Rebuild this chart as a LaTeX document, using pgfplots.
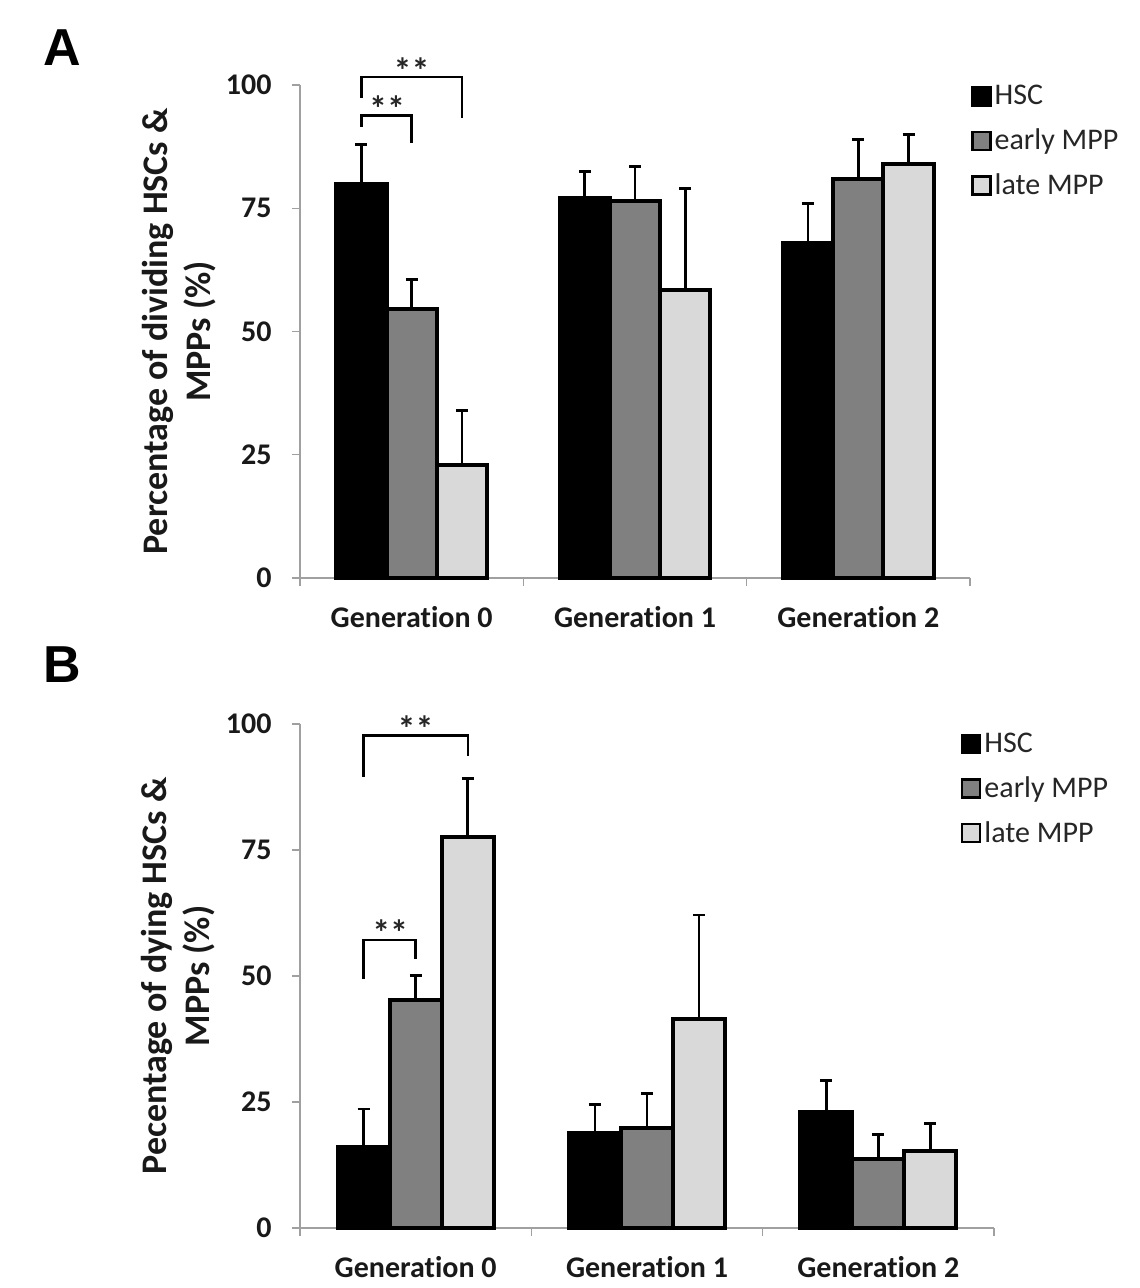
\documentclass[border=0pt]{standalone}
\usepackage{pgfplots}
\pgfplotsset{compat=1.18}
\usepackage{fontspec}
\setmainfont{Carlito}[Ligatures=NoCommon]
\newfontfamily\panelfont{Liberation Sans}

\definecolor{earlygray}{HTML}{808080}
\definecolor{lategray}{HTML}{D9D9D9}
\definecolor{axisgray}{HTML}{A0A0A0}

\tikzset{stars/.style={font=\fontsize{18}{18}\selectfont\bfseries, anchor=base, text=black!85}}

\pgfplotsset{
  panel/.style={
    scale only axis,
    xmin=-0.5, xmax=2.5, ymin=0, ymax=100,
    clip=false,
    ytick={0,25,50,75,100},
    xtick={-0.5,0.5,1.5,2.5},
    xticklabels={},
    extra x ticks={0,1,2},
    extra x tick labels={Generation 0,Generation 1,Generation 2},
    extra x tick style={major tick length=0pt},
    axis x line*=bottom, axis y line*=left,
    axis line style={axisgray, line width=0.7pt},
    tick align=outside,
    tick style={axisgray, line width=0.7pt},
    major tick length=4pt,
    /pgf/number format/assume math mode=true,
    ticklabel style={font=\fontsize{15}{18}\selectfont\bfseries, text=black!90},
    yticklabel style={inner sep=0pt, xshift=-10pt},
    xticklabel style={inner sep=0pt, yshift=-14pt},
    ylabel style={align=center, font=\fontsize{18}{21.5}\selectfont\bfseries, anchor=center, text=black!90},
    legend cell align=left,
    legend style={draw=none, fill=none, anchor=north west, font=\fontsize{15}{18}\selectfont,
      row sep=7.5pt, text=black!85, nodes={inner sep=1.5pt}},
  },
  % bars are placed at their own x (group centre -0.225 / 0 / +0.225)
  bars/.style={ybar, bar width=0.225, bar shift=0pt, draw=black, line width=2pt, forget plot,
    error bars/y dir=plus, error bars/y explicit,
    error bars/error bar style={line width=1.4pt, black},
    error bars/error mark options={rotate=90, line width=1.4pt, mark size=3pt, black}},
  bracket/.style={black, line width=1.2pt, mark=none, forget plot},
}

\newcommand{\legendboxes}{%
  \addlegendimage{legend image code/.code={\draw[fill=black, line width=1.3pt] (0pt,-4.5pt) rectangle (9pt,4.5pt);}}
  \addlegendentry{HSC}
  \addlegendimage{legend image code/.code={\draw[fill=earlygray, line width=1.3pt] (0pt,-4.5pt) rectangle (9pt,4.5pt);}}
  \addlegendentry{early MPP}
  \addlegendimage{legend image code/.code={\draw[fill=lategray, line width=1.3pt] (0pt,-4.5pt) rectangle (9pt,4.5pt);}}
  \addlegendentry{late MPP}
}

\begin{document}
\begin{tikzpicture}
  \path (0,0) rectangle (569.5pt,644pt);

  % panel labels
  \node[font=\panelfont\bfseries\fontsize{26}{26}\selectfont] at (31pt,620pt) {A};
  \node[font=\panelfont\bfseries\fontsize{26}{26}\selectfont] at (31pt,311.5pt) {B};

  % ---------- A: dividing ----------
  \begin{axis}[
      panel,
      at={(150pt,355pt)}, anchor=south west,
      width=335pt, height=246.5pt,
      ylabel={Percentage of dividing HSCs \&\\MPPs (\%)},
      ylabel style={at={(axis description cs:-0.18,0.5)}},
      legend style={at={(0.992,1.014)}},
    ]
    \legendboxes
    \addplot[bars, fill=black]
      coordinates {(-0.225,80) +- (0,8) (0.775,77) +- (0,5.5) (1.775,68) +- (0,8)};
    \addplot[bars, fill=earlygray]
      coordinates {(0,54.5) +- (0,6) (1,76.5) +- (0,7) (2,81) +- (0,8)};
    \addplot[bars, fill=lategray]
      coordinates {(0.225,23) +- (0,11) (1.225,58.5) +- (0,20.5) (2.225,84) +- (0,6)};

    % significance brackets
    \addplot[bracket] coordinates {(-0.225,91.5) (-0.225,93.8) (0,93.8) (0,88.2)};
    \addplot[bracket] coordinates {(-0.225,97.4) (-0.225,101.6) (0.225,101.6) (0.225,93.4)};
    \node[stars] at (axis cs:-0.11,92.6) {**};
    \node[stars] at (axis cs:0,100.4) {**};
  \end{axis}

  % ---------- B: dying ----------
  \begin{axis}[
      panel,
      at={(150pt,30pt)}, anchor=south west,
      width=347pt, height=252pt,
      ylabel={Pecentage of dying HSCs \&\\MPPs (\%)},
      ylabel style={at={(axis description cs:-0.176,0.5)}},
      legend style={at={(0.943,0.997)}},
    ]
    \legendboxes
    \addplot[bars, fill=black]
      coordinates {(-0.225,16) +- (0,7.6) (0.775,18.8) +- (0,5.7) (1.775,23) +- (0,6.3)};
    \addplot[bars, fill=earlygray]
      coordinates {(0,45.2) +- (0,4.9) (1,19.8) +- (0,6.9) (2,13.6) +- (0,4.9)};
    \addplot[bars, fill=lategray]
      coordinates {(0.225,77.5) +- (0,11.7) (1.225,41.5) +- (0,20.6) (2.225,15.3) +- (0,5.4)};

    % significance brackets
    \addplot[bracket] coordinates {(-0.225,49.5) (-0.225,57.2) (0,57.2) (0,53.3)};
    \addplot[bracket] coordinates {(-0.225,89.5) (-0.225,97.7) (0.225,97.7) (0.225,93.6)};
    \node[stars] at (axis cs:-0.11,56) {**};
    \node[stars] at (axis cs:0,96.5) {**};
  \end{axis}
\end{tikzpicture}
\end{document}
